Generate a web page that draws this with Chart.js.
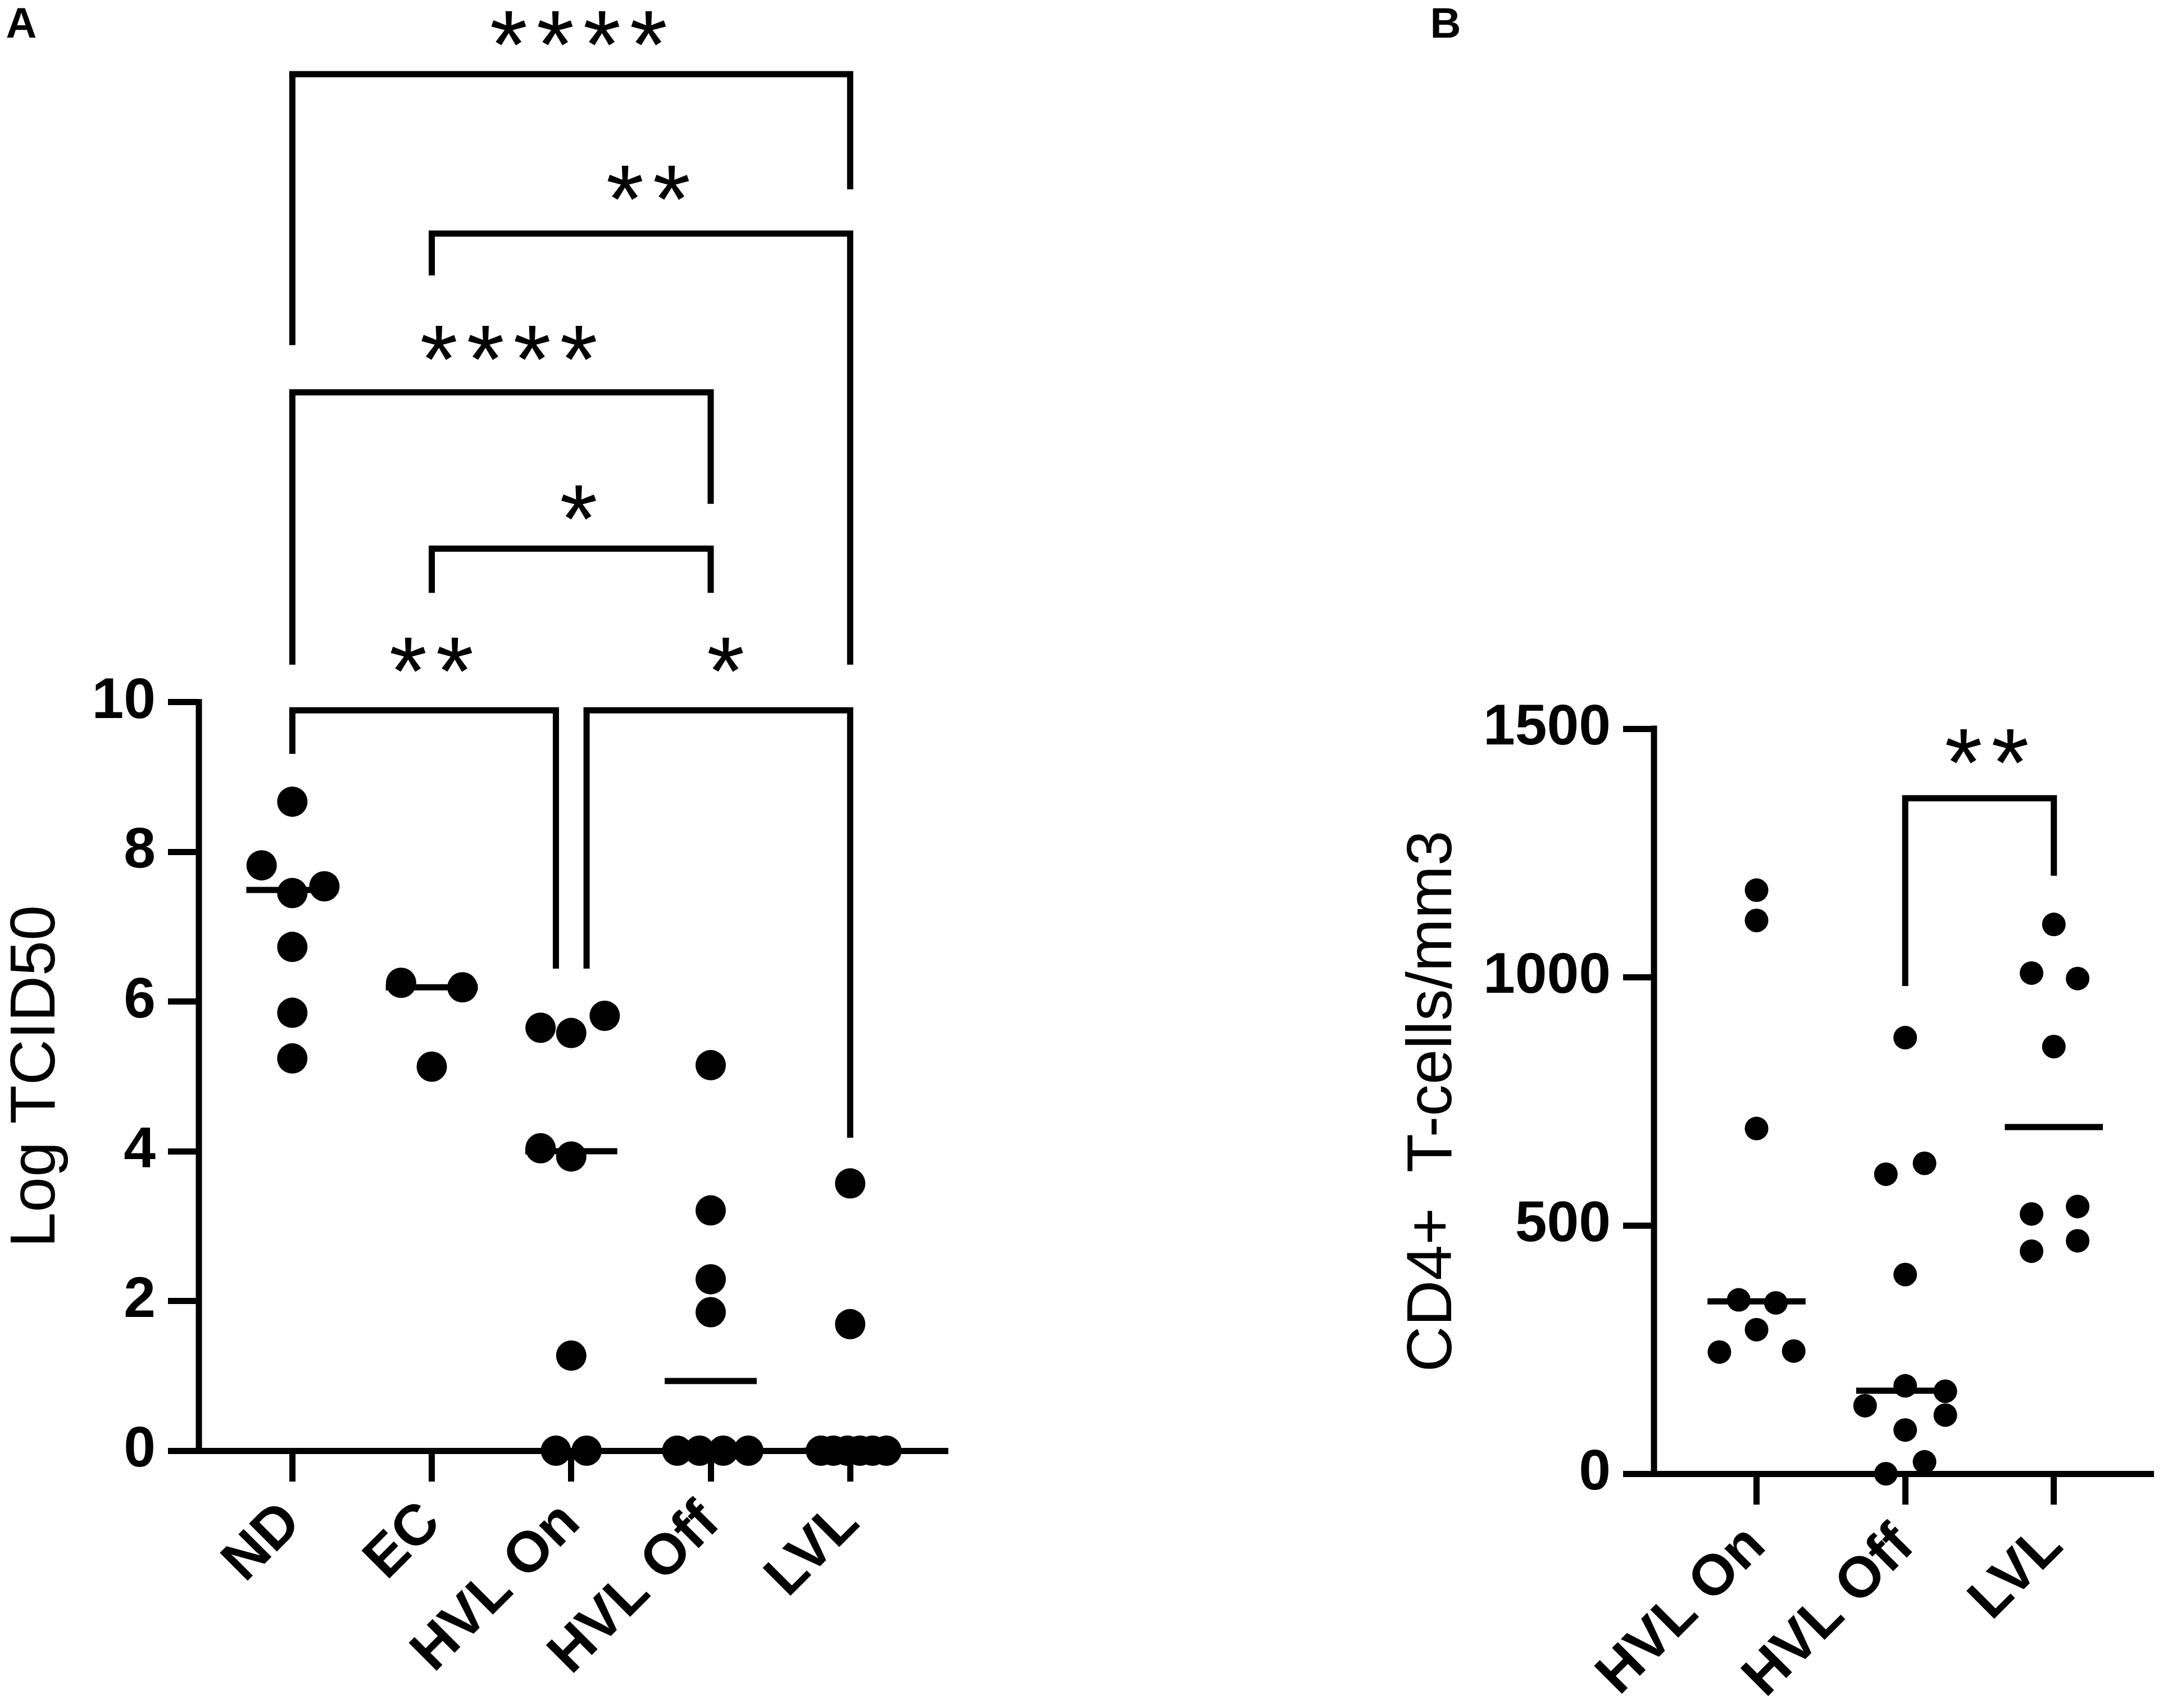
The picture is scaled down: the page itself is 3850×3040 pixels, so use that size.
<!DOCTYPE html>
<html>
<head>
<meta charset="utf-8">
<script src="https://cdn.jsdelivr.net/npm/chart.js@4.4.1/dist/chart.umd.min.js"></script>
<style>
  html, body { margin: 0; padding: 0; background: #fff; }
  body { width: 3850px; height: 3040px; position: relative; overflow: hidden; }
  canvas { position: absolute; top: 0; }
  #chartA { left: 0; }
  #chartB { left: 2400px; }
</style>
</head>
<body>
<canvas id="chartA" width="1760" height="3040" style="width:1760px;height:3040px"></canvas>
<canvas id="chartB" width="1450" height="3040" style="width:1450px;height:3040px"></canvas>
<script>
// ---- Panel A: Log TCID50 ----
var groupsA = ["ND", "EC", "HVL On", "HVL Off", "LVL"];
var ticksA = [0, 2, 4, 6, 8, 10];
var ndLog = [7.82, 8.67, 7.45, 7.54, 6.73, 5.85, 5.24];
var ecLog = [6.25, 6.19, 5.13];
var hvlOnLog = [5.65, 5.58, 5.81, 4.04, 3.93, 1.27, 0, 0];
var hvlOffLog = [5.15, 3.21, 2.29, 1.85, 0, 0, 0, 0];
var lvlLog = [3.57, 1.69, 0, 0, 0, 0, 0, 0];
var medianA = [7.49, 6.19, 4.0, 0.93, 0];

// horizontal scatter of the dots inside each group (category units)
var ndSpread = [-0.22, 0, 0, 0.23, 0, 0, 0];
var ecSpread = [-0.22, 0.22, 0];
var hvlOnSpread = [-0.22, 0, 0.24, -0.22, 0, 0, -0.11, 0.11];
var hvlOffSpread = [0, 0, 0, 0, -0.24, -0.08, 0.09, 0.27];
var lvlSpread = [0, 0, -0.21, -0.12, -0.02, 0.07, 0.16, 0.26];

// significance brackets (x in category units, y in data units)
var sigFromA = [0, 1, 0, 1, 0, 2.11];
var sigToA = [4, 4, 3, 3, 1.89, 4];
var sigBarA = [18.39, 16.26, 14.14, 12.05, 9.89, 9.89];
var sigLeftA = [14.77, 15.70, 10.50, 11.46, 9.31, 6.44];
var sigRightA = [16.85, 10.50, 12.65, 11.46, 6.44, 4.18];
var sigStarsA = ["****", "**", "****", "*", "**", "*"];
var sigTextA = [18.9, 16.84, 14.70, 12.57, 10.53, 10.53];

// ---- Panel B: CD4+ T-cells/mm3 ----
var groupsB = ["HVL On", "HVL Off", "LVL"];
var ticksB = [0, 500, 1000, 1500];
var cd4HvlOn = [1175, 1114, 695, 350, 344, 290, 245, 247];
var cd4HvlOff = [878, 603, 625, 401, 177, 166, 137, 118, 88, 24, 0];
var cd4Lvl = [1106, 1008, 997, 860, 523, 538, 448, 469];
var medianB = [347, 167, 698];

var cd4HvlOnSpread = [0, 0, 0, -0.12, 0.13, 0, -0.25, 0.25];
var cd4HvlOffSpread = [0, -0.13, 0.13, 0, 0, 0.27, -0.27, 0.27, 0, 0.13, -0.13];
var cd4LvlSpread = [0, -0.15, 0.16, 0, -0.15, 0.16, -0.15, 0.16];

var sigFromB = [1];
var sigToB = [2];
var sigBarB = [1360];
var sigLeftB = [982];
var sigRightB = [1204];
var sigStarsB = ["**"];
var sigTextB = [1450];

Chart.defaults.font.family = "'Liberation Sans', Arial, sans-serif";
Chart.defaults.color = "#000";
Chart.defaults.animation = false;

var lineW = 11;
var medianHalf = 0.33;
var starSize = 64;   // glyph width of one asterisk, px
var starGap = 83;    // distance between asterisk centres, px

function groupPoints(vals, spread, g) {
  return vals.map(function (v, k) { return { x: g + spread[k], y: v }; });
}

function buildDatasets(valueSets, spreadSets, medians, sig, dotR) {
  var ds = [];
  valueSets.forEach(function (vals, g) {
    ds.push({
      data: [{ x: g - medianHalf, y: medians[g] }, { x: g + medianHalf, y: medians[g] }],
      showLine: true, borderColor: "#000", borderWidth: lineW, pointRadius: 0, clip: false
    });
    ds.push({
      data: groupPoints(vals, spreadSets[g], g),
      pointRadius: dotR, pointBackgroundColor: "#000", pointBorderWidth: 0, clip: false
    });
  });
  sig.from.forEach(function (f, k) {
    var t = sig.to[k];
    ds.push({
      data: [{ x: f, y: sig.left[k] }, { x: f, y: sig.bar[k] }, { x: t, y: sig.bar[k] }, { x: t, y: sig.right[k] }],
      showLine: true, borderColor: "#000", borderWidth: lineW, pointRadius: 0,
      borderJoinStyle: "miter", borderCapStyle: "butt", clip: false
    });
  });
  return ds;
}

var panelExtras = {
  id: "panelExtras",
  afterDatasetsDraw: function (chart, args, o) {
    var ctx = chart.ctx, xs = chart.scales.x, ys = chart.scales.y;
    var ax = chart.chartArea.left;
    ctx.save();
    // y axis line, only up to the top tick
    ctx.strokeStyle = "#000";
    ctx.lineWidth = lineW;
    ctx.lineCap = "square";
    ctx.beginPath();
    ctx.moveTo(ax, ys.getPixelForValue(0));
    ctx.lineTo(ax, ys.getPixelForValue(o.yTop));
    ctx.stroke();

    // axis title centred on the tick range
    ctx.fillStyle = "#000";
    ctx.font = "113px 'Liberation Sans', Arial, sans-serif";
    ctx.textAlign = "center";
    ctx.textBaseline = "middle";
    ctx.save();
    ctx.translate(o.titleX, ys.getPixelForValue(o.yTop / 2));
    ctx.rotate(-Math.PI / 2);
    ctx.fillText(o.title, 0, 0);
    ctx.restore();

    // asterisks
    ctx.font = "100px 'Liberation Sans', Arial, sans-serif";
    var m = ctx.measureText("*");
    var size = 100 * starSize / (m.actualBoundingBoxLeft + m.actualBoundingBoxRight);
    ctx.font = size.toFixed(1) + "px 'Liberation Sans', Arial, sans-serif";
    m = ctx.measureText("*");
    ctx.textBaseline = "alphabetic";
    ctx.textAlign = "left";
    var lift = (m.actualBoundingBoxAscent - m.actualBoundingBoxDescent) / 2 + 0.2 * size;
    var shift = (m.actualBoundingBoxRight - m.actualBoundingBoxLeft) / 2 + 0.12 * size;
    o.sig.stars.forEach(function (s, k) {
      var cx = xs.getPixelForValue((o.sig.from[k] + o.sig.to[k]) / 2);
      var cy = ys.getPixelForValue(o.sig.text[k]);
      for (var i = 0; i < s.length; i++) {
        var sx = cx + (i - (s.length - 1) / 2) * starGap;
        ctx.fillText("*", sx - shift, cy + lift);
      }
    });

    // panel letter
    ctx.font = "bold 76px 'Liberation Sans', Arial, sans-serif";
    ctx.textAlign = "center";
    ctx.textBaseline = "middle";
    ctx.fillText(o.letter, o.letterX, o.letterY);
    ctx.restore();
  }
};

function makePanel(id, p) {
  return new Chart(document.getElementById(id).getContext("2d"), {
    type: "scatter",
    data: { datasets: buildDatasets(p.values, p.spreads, p.medians, p.sig, p.dotR) },
    options: {
      responsive: false,
      devicePixelRatio: 1,
      events: [],
      layout: { autoPadding: false, padding: { left: 0, right: p.padRight, top: p.padTop, bottom: 0 } },
      plugins: {
        legend: { display: false },
        tooltip: { enabled: false },
        panelExtras: {
          yTop: p.ticks[p.ticks.length - 1], title: p.title, titleX: p.titleX,
          sig: p.sig, letter: p.letter, letterX: p.letterX, letterY: p.letterY
        }
      },
      scales: {
        x: {
          type: "linear", min: p.xMin, max: p.xMax,
          afterBuildTicks: function (s) { s.ticks = p.groups.map(function (g, i) { return { value: i }; }); },
          afterFit: function (s) { s.height = p.xAxisH; s.paddingLeft = 0; s.paddingRight = 0; },
          ticks: {
            autoSkip: false, minRotation: 45, maxRotation: 45, padding: 14,
            font: { size: 102, weight: "bold" },
            callback: function (v) { return p.groups[Math.round(v)]; }
          },
          grid: { drawOnChartArea: false, drawTicks: true, tickLength: 55, tickWidth: lineW, tickColor: "#000" },
          border: { display: true, color: "#000", width: lineW }
        },
        y: {
          type: "linear", min: 0, max: p.yMax,
          afterBuildTicks: function (s) { s.ticks = p.ticks.map(function (t) { return { value: t }; }); },
          afterFit: function (s) { s.width = p.yAxisW; s.paddingTop = 0; s.paddingBottom = 0; },
          ticks: {
            padding: 22, font: { size: 102, weight: "bold" },
            callback: function (v) { return String(v); }
          },
          grid: { drawOnChartArea: false, drawTicks: true, tickLength: 55, tickWidth: lineW, tickColor: "#000" },
          border: { display: false }
        }
      }
    },
    plugins: [panelExtras]
  });
}

makePanel("chartA", {
  groups: groupsA, ticks: ticksA,
  values: [ndLog, ecLog, hvlOnLog, hvlOffLog, lvlLog],
  spreads: [ndSpread, ecSpread, hvlOnSpread, hvlOffSpread, lvlSpread],
  medians: medianA,
  sig: { from: sigFromA, to: sigToA, bar: sigBarA, left: sigLeftA, right: sigRightA, stars: sigStarsA, text: sigTextA },
  dotR: 27, xMin: -0.67, xMax: 4.70, yMax: 19.38,
  yAxisW: 354, xAxisH: 458, padTop: 0, padRight: 73,
  title: "Log TCID50", titleX: 66, letter: "A", letterX: 38, letterY: 46
});

makePanel("chartB", {
  groups: groupsB, ticks: ticksB,
  values: [cd4HvlOn, cd4HvlOff, cd4Lvl],
  spreads: [cd4HvlOnSpread, cd4HvlOffSpread, cd4LvlSpread],
  medians: medianB,
  sig: { from: sigFromB, to: sigToB, bar: sigBarB, left: sigLeftB, right: sigRightB, stars: sigStarsB, text: sigTextB },
  dotR: 21, xMin: -0.69, xMax: 2.67, yMax: 1500,
  yAxisW: 544, xAxisH: 417, padTop: 1297, padRight: 17,
  title: "CD4+  T-cells/mm3", titleX: 152, letter: "B", letterX: 173, letterY: 46
});
</script>
</body>
</html>
